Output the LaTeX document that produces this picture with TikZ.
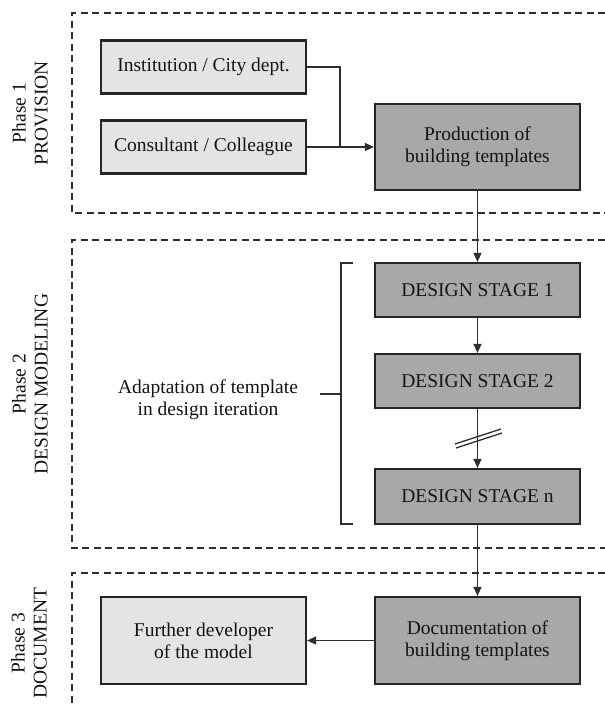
\documentclass[tikz,border=0pt]{standalone}
\usepackage{fontspec}
\setmainfont{Liberation Serif}
\usetikzlibrary{arrows.meta}
\definecolor{lightfill}{HTML}{E4E4E4}
\definecolor{darkfill}{HTML}{A8A8A8}
\definecolor{linegray}{HTML}{2E2E2E}
\begin{document}
\begin{tikzpicture}[x=1pt,y=-1pt,
  txt/.style={font=\fontsize{19.5}{22}\selectfont, text=black!92, align=center},
  basebox/.style={txt, draw=black!85, line width=2.2pt, inner sep=0pt, minimum width=205pt},
  lightbox/.style={basebox, fill=lightfill},
  darkbox/.style={basebox, fill=darkfill},
  phaseframe/.style={draw=linegray, line width=1.3pt, dash pattern=on 7pt off 4.5pt},
  conn/.style={draw=linegray, line width=1.3pt},
  arr/.style={conn, -{Triangle[length=9pt,width=8pt]}},
  phaselabel/.style={txt, rotate=90}
]
\useasboundingbox (0,0) rectangle (605,705);
\fill[white] (0,0) rectangle (605,705);

% phase frames
\draw[phaseframe] (605,13) -- (72,13) -- (72,213) -- (605,213);
\draw[phaseframe] (605,240) -- (72,240) -- (72,548) -- (605,548);
\draw[phaseframe] (605,573) -- (72,573) -- (72,705);

% phase labels
\node[phaselabel] (p1) at (30,113) {Phase 1\\PROVISION};
\node[phaselabel] (p2) at (30,384) {Phase 2\\DESIGN MODELING};
\node[phaselabel] (p3) at (29,643) {Phase 3\\DOCUMENT};

% boxes
\node[lightbox, minimum height=53pt] (inst) at (203.5,67) {Institution / City dept.};
\node[lightbox, minimum height=53pt] (cons) at (203.5,147) {Consultant / Colleague};
\node[darkbox, minimum height=86pt] (prod) at (477.5,147) {Production of\\building templates};
\node[darkbox, minimum height=54pt] (ds1) at (477.5,290) {DESIGN STAGE 1};
\node[darkbox, minimum height=54pt] (ds2) at (477.5,381) {DESIGN STAGE 2};
\node[darkbox, minimum height=55pt] (dsn) at (477.5,496.5) {DESIGN STAGE n};
\node[darkbox, minimum height=87pt] (doc) at (477.5,640.5) {Documentation of\\building templates};
\node[lightbox, minimum height=87pt] (fur) at (203.5,640.5) {Further developer\\of the model};

% connectors
\coordinate (j) at (340,147);
\draw[conn] (inst.east) -| (j);
\draw[arr] (cons.east) -- (prod.west);
\draw[arr] (prod.south) -- (ds1.north);
\draw[arr] (ds1.south) -- (ds2.north);
\draw[arr] (ds2.south) -- (dsn.north);
\draw[arr] (dsn.south) -- (doc.north);
\draw[arr] (doc.west) -- (fur.east);

% break mark
\coordinate (bm) at (478,437);
\draw[conn] ([shift={(-23,7)}]bm) -- ([shift={(23,-8)}]bm);
\draw[conn] ([shift={(-22,11)}]bm) -- ([shift={(24,-4)}]bm);

% bracket
\coordinate (bt) at (341,263);
\coordinate (bb) at (341,524);
\coordinate (bmid) at (341,394);
\draw[conn] (353,263) -- (bt) -- (bb) -- (353,524);
\draw[conn] (bmid) -- (320,394);
\node[txt] (adapt) at (208,400) {Adaptation of template\\in design iteration};
\end{tikzpicture}
\end{document}
